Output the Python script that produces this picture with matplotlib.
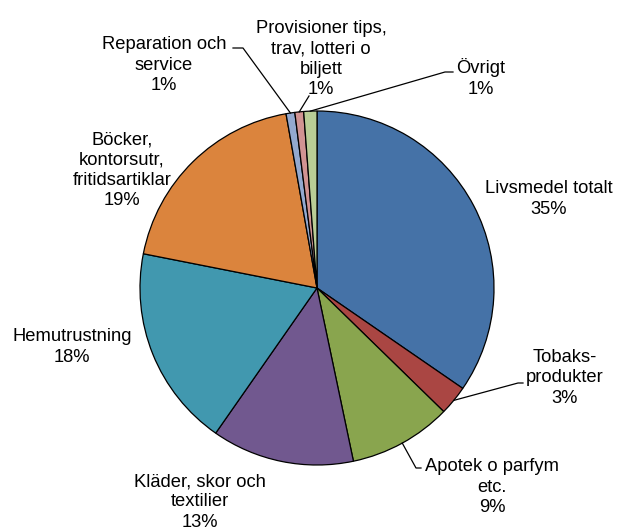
import matplotlib
matplotlib.use("Agg")
import matplotlib.pyplot as plt
import numpy as np

plt.rcParams['font.family'] = ['Liberation Sans', 'DejaVu Sans']

categories = ["Livsmedel totalt", "Tobaks-\nprodukter", "Apotek o parfym\netc.",
              "Kläder, skor och\ntextilier", "Hemutrustning",
              "Böcker,\nkontorsutr,\nfritidsartiklar", "Reparation och\nservice",
              "Provisioner tips,\ntrav, lotteri o\nbiljett", "Övrigt"]
values = [34.6, 2.7, 9.4, 13.0, 18.4, 19.1, 0.8, 0.8, 1.2]
pct_labels = ["35%", "3%", "9%", "13%", "18%", "19%", "1%", "1%", "1%"]
colors = ["#4572A7", "#AA4643", "#89A54E", "#71588F", "#4198AF",
          "#DB843D", "#93A9CF", "#D19392", "#B9CD96"]

# label placement (pixel coords, y from top)
label_pos = [(549, 199), (565, 378), (492, 487), (200, 502), (72, 347),
             (122, 170), (164, 65), (321, 59), (481, 78)]
# leader lines: text-side points (pixel coords) or None
leaders = [None,
           [(523, 383), (518, 383)],
           [(421, 468), (416, 468)],
           None, None, None,
           [(233, 48), (243, 48)],
           [(309, 96)],
           [(453, 72), (445, 72)]]

W, H = 617, 529
fig = plt.figure(figsize=(W / 100, H / 100), dpi=100)
ax = fig.add_axes([0, 0, 1, 1])

cx, cy, R = 317, H - 288, 177
wedges, _ = ax.pie(values, colors=colors, startangle=90, counterclock=False,
                   center=(cx, cy), radius=R, frame=True,
                   wedgeprops=dict(edgecolor='black', linewidth=0.9))
ax.set_xlim(0, W)
ax.set_ylim(0, H)
ax.axis('off')

for i, w in enumerate(wedges):
    x, y = label_pos[i]
    ax.text(x, H - y, categories[i] + "\n" + pct_labels[i], ha='center', va='center',
            multialignment='center', fontsize=13.2, linespacing=1.24, color='#000000')
    if leaders[i] is not None:
        mid = np.deg2rad((w.theta1 + w.theta2) / 2)
        anchor = (cx + R * np.cos(mid), cy + R * np.sin(mid))
        pts = [(px, H - py) for px, py in leaders[i]] + [anchor]
        xs, ys = zip(*pts)
        ax.plot(xs, ys, color='black', linewidth=0.9)

fig.savefig("out.png", dpi=100)
